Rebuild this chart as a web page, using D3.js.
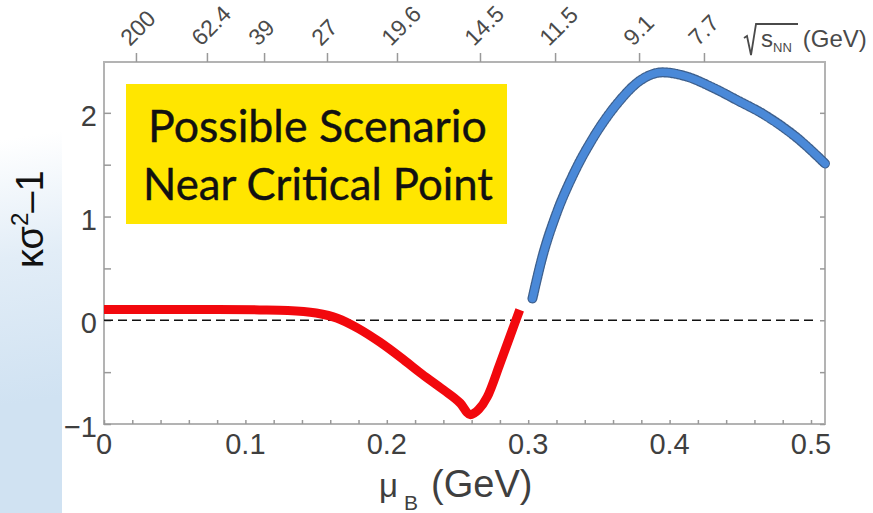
<!DOCTYPE html>
<html>
<head>
<meta charset="utf-8">
<script src="https://cdn.jsdelivr.net/npm/d3@7/dist/d3.min.js"></script>
<style>
  html, body { margin: 0; padding: 0; background: #fff; }
  svg { display: block; }
</style>
</head>
<body>
<svg id="chart" width="873" height="513"></svg>
<script>
// Cumulant ratio kappa*sigma^2 - 1 versus baryon chemical potential (GeV)
const redMu  = [0.000, 0.040, 0.080, 0.110, 0.130, 0.150, 0.165, 0.180, 0.195, 0.210, 0.225, 0.240, 0.252, 0.259, 0.265, 0.271, 0.280, 0.287, 0.294];
const redVal = [0.105, 0.105, 0.104, 0.100, 0.095, 0.070, 0.020, -0.080, -0.210, -0.360, -0.520, -0.670, -0.800, -0.910, -0.860, -0.740, -0.420, -0.160, 0.100];

const blueMu  = [0.303, 0.310, 0.320, 0.332, 0.346, 0.363, 0.379, 0.395, 0.412, 0.431, 0.448, 0.466, 0.490, 0.510];
const blueVal = [0.210, 0.610, 1.030, 1.410, 1.760, 2.090, 2.310, 2.390, 2.350, 2.240, 2.120, 1.990, 1.760, 1.510];

const xTickValues = [0, 0.1, 0.2, 0.3, 0.4, 0.5];
const xTickLabels = ["0", "0.1", "0.2", "0.3", "0.4", "0.5"];
const yTickValues = [-1, 0, 1, 2];
const yTickLabels = ["\u22121", "0", "1", "2"];

// collision energy axis along the top: sqrt(s_NN) labels and the mu_B they sit at
const topTickLabels = ["200", "62.4", "39", "27", "19.6", "14.5", "11.5", "9.1", "7.7"];
const topTickMu     = [0.0226, 0.0728, 0.1132, 0.1577, 0.2072, 0.2659, 0.3190, 0.3784, 0.4243];

const svg = d3.select("#chart");

// pale blue slide backdrop at the lower left
const defs = svg.append("defs");
const grad = defs.append("linearGradient").attr("id", "bgBlue")
  .attr("gradientUnits", "userSpaceOnUse")
  .attr("x1", 0).attr("y1", 140).attr("x2", 40).attr("y2", 400);
grad.append("stop").attr("offset", "0").attr("stop-color", "#ffffff");
grad.append("stop").attr("offset", "0.45").attr("stop-color", "#e2edf7");
grad.append("stop").attr("offset", "1").attr("stop-color", "#d0e2f2");
svg.append("rect")
  .attr("x", 0).attr("y", 130).attr("width", 62).attr("height", 383)
  .attr("fill", "url(#bgBlue)");

const plotLeft = 104, plotRight = 825, plotTop = 62, plotBottom = 424;
const x = d3.scaleLinear().domain([0, 0.51]).range([plotLeft, plotLeft + 0.51 * 1414]);
const y = d3.scaleLinear().domain([-1, 2.49]).range([plotBottom, plotTop]);

const frameColor = "#b3b3b3";
const labelColor = "#3f3f3f";

// plot area
svg.append("rect")
  .attr("x", plotLeft).attr("y", plotTop)
  .attr("width", plotRight - plotLeft).attr("height", plotBottom - plotTop)
  .attr("fill", "#fff").attr("stroke", frameColor).attr("stroke-width", 2);

// bottom axis: minor ticks every 0.02, labels every 0.1
const bottomAxis = d3.axisBottom(x)
  .tickValues(d3.range(0, 0.511, 0.02))
  .tickSizeInner(-4).tickSizeOuter(0)
  .tickFormat("");
const gB = svg.append("g").attr("transform", `translate(0,${plotBottom})`).call(bottomAxis);
gB.select(".domain").remove();
gB.selectAll("line").attr("stroke", "#999").attr("stroke-width", 1.5);

svg.append("g").selectAll("text").data(xTickValues).join("text")
  .attr("x", d => x(d)).attr("y", 454)
  .attr("text-anchor", "middle")
  .attr("font-family", "'Liberation Sans', Arial, sans-serif")
  .attr("font-size", 29).attr("fill", labelColor)
  .text((d, i) => xTickLabels[i]);

// left axis: ticks every 0.5
const leftAxis = d3.axisLeft(y)
  .tickValues(d3.range(-1, 2.01, 0.5))
  .tickSizeInner(-7).tickSizeOuter(0).tickFormat("");
const gL = svg.append("g").attr("transform", `translate(${plotLeft},0)`).call(leftAxis);
gL.select(".domain").remove();
gL.selectAll("line").attr("stroke", "#999").attr("stroke-width", 1.5);

const rightAxis = d3.axisRight(y)
  .tickValues(d3.range(-1, 2.01, 0.5))
  .tickSizeInner(-5).tickSizeOuter(0).tickFormat("");
const gR = svg.append("g").attr("transform", `translate(${plotRight},0)`).call(rightAxis);
gR.select(".domain").remove();
gR.selectAll("line").attr("stroke", "#999").attr("stroke-width", 1.5);

svg.append("g").selectAll("text").data(yTickValues).join("text")
  .attr("x", 97).attr("y", d => y(d) + 13)
  .attr("text-anchor", "end")
  .attr("font-family", "'Liberation Sans', Arial, sans-serif")
  .attr("font-size", 29).attr("fill", labelColor)
  .text((d, i) => yTickLabels[i]);

// top axis in sqrt(s_NN)
const topAxis = d3.axisTop(x)
  .tickValues(topTickMu).tickSizeInner(9).tickSizeOuter(0).tickFormat("");
const gT = svg.append("g").attr("transform", `translate(0,${plotTop})`).call(topAxis);
gT.select(".domain").remove();
gT.selectAll("line").attr("stroke", "#999").attr("stroke-width", 1.5);

svg.append("g").selectAll("text").data(topTickMu).join("text")
  .attr("transform", d => `translate(${x(d) - 6},${plotTop - 15}) rotate(-45)`)
  .attr("text-anchor", "start")
  .attr("font-family", "'Liberation Sans', Arial, sans-serif")
  .attr("font-size", 23).attr("fill", "#4a4a4a")
  .text((d, i) => topTickLabels[i]);

// sqrt(s_NN) (GeV) unit label
const sq = svg.append("g").attr("fill", "#4a4a4a")
  .attr("font-family", "'Liberation Sans', Arial, sans-serif");
sq.append("path")
  .attr("d", "M744,38 L747,36 L751,55 L756,24 L798,24")
  .attr("fill", "none").attr("stroke", "#4a4a4a").attr("stroke-width", 1.8);
const sqText = sq.append("text").attr("x", 761).attr("y", 47).attr("font-size", 24);
sqText.append("tspan").text("s");
sqText.append("tspan").attr("font-size", 13).attr("dy", 5).text("NN");
sqText.append("tspan").attr("dy", -5).attr("dx", 11).text("(GeV)");

// zero reference line
svg.append("line")
  .attr("x1", x(0)).attr("x2", 818)
  .attr("y1", y(0)).attr("y2", y(0))
  .attr("stroke", "#111").attr("stroke-width", 1.6)
  .attr("stroke-dasharray", "9,5");

const line = d3.line().curve(d3.curveMonotoneX);
const redPts = redMu.map((m, i) => [x(m), y(redVal[i])]);
const bluePts = blueMu.map((m, i) => [x(m), y(blueVal[i])]);

svg.append("path").attr("d", line(redPts))
  .attr("fill", "none").attr("stroke", "#f2080d")
  .attr("stroke-width", 9).attr("stroke-linejoin", "round");

svg.append("path").attr("d", line(bluePts))
  .attr("fill", "none").attr("stroke", "#3d5f8c")
  .attr("stroke-width", 10).attr("stroke-linecap", "round")
  .attr("stroke-dasharray", "2,1.5");
svg.append("path").attr("d", line(bluePts))
  .attr("fill", "none").attr("stroke", "#4a89d8")
  .attr("stroke-width", 7.5).attr("stroke-linecap", "round");

// annotation box
svg.append("rect")
  .attr("x", 126).attr("y", 84).attr("width", 381).attr("height", 140)
  .attr("fill", "#ffe600");
const noteLines = ["Possible Scenario", "Near Critical Point"];
const noteWidths = [339, 350];
const noteX = [148, 143];
const noteY = [142, 200];
svg.append("g").selectAll("text").data(noteLines).join("text")
  .attr("x", (d, i) => noteX[i]).attr("y", (d, i) => noteY[i])
  .attr("font-family", "Lato, 'Open Sans', sans-serif")
  .attr("font-size", 40).attr("fill", "#111")
  .attr("stroke", "#111").attr("stroke-width", 0.4)
  .text(d => d)
  .each(function (d, i) {
    const w = this.getComputedTextLength();
    d3.select(this).attr("font-size", 40 * noteWidths[i] / w);
  });

// axis titles
const xt = svg.append("text").attr("x", 379).attr("y", 497)
  .attr("font-family", "'Liberation Sans', Arial, sans-serif")
  .attr("font-size", 38).attr("fill", labelColor);
xt.append("tspan").attr("font-size", 33).text("\u03bc");
xt.append("tspan").attr("font-size", 21).attr("dx", 6).attr("dy", 13).text("B");
xt.append("tspan").attr("dy", -13).attr("dx", 13).text("(GeV)");

const yt = svg.append("text")
  .attr("transform", "translate(43,268) rotate(-90)")
  .attr("font-family", "'Liberation Sans', Arial, sans-serif")
  .attr("font-size", 38).attr("fill", "#111");
yt.append("tspan").text("\u03ba\u03c3");
yt.append("tspan").attr("font-size", 24).attr("dy", -15).text("2");
yt.append("tspan").attr("dy", 15).text("\u20131");
</script>
</body>
</html>
